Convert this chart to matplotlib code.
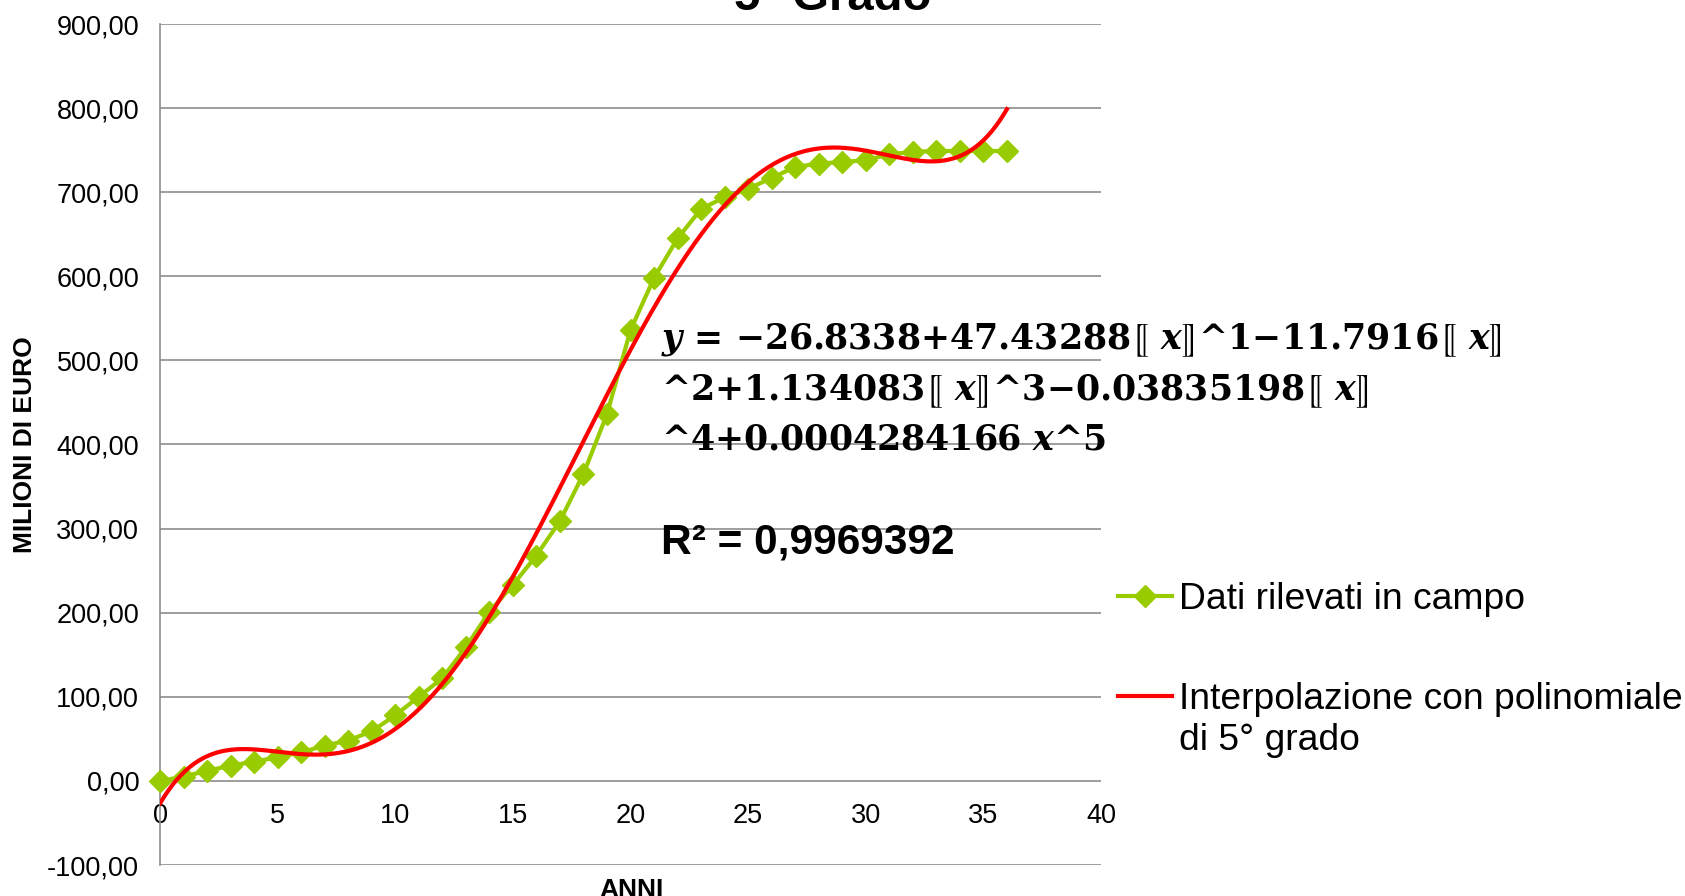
import numpy as np
import matplotlib.pyplot as plt
from matplotlib.ticker import FuncFormatter, MultipleLocator

plt.rcParams['font.family'] = ['Liberation Sans', 'DejaVu Sans']
plt.rcParams['mathtext.fontset'] = 'custom'
plt.rcParams['mathtext.rm'] = 'DejaVu Serif:bold'
plt.rcParams['mathtext.it'] = 'DejaVu Serif:italic:bold'
plt.rcParams['mathtext.bf'] = 'DejaVu Serif:bold'
plt.rcParams['mathtext.fallback'] = 'stix'

# dati
anni = list(range(37))
milioni = [0, 5, 12, 18, 23, 28, 34, 42, 48, 59, 78, 100, 122, 159, 201, 233,
           268, 309, 365, 436, 536, 598, 645, 680, 694, 704, 717, 730, 734,
           736, 738, 745, 748, 749, 749, 749, 749]

# coefficienti della polinomiale riportati nel grafico (grado 0 -> 5)
coef = [-26.8338, 47.43288, -11.7916, 1.134083, -0.03835198, 0.0004284166]

etichetta_dati = "Dati rilevati in campo"
etichetta_fit = "Interpolazione con polinomiale"
etichetta_fit2 = "di 5° grado"
titolo = "5° Grado"
br = r"$⟦\ x⟧$"
equazione = ("$y$ = −26.8338+47.43288" + br + "^1−11.7916" + br + "\n"
             "^2+1.134083" + br + "^3−0.03835198" + br + "\n"
             "^4+0.0004284166 $x$^5")
r2_testo = "R² = 0,9969392"

verde = '#99cc00'
rosso = '#ff0000'
grigio = '#8c8c8c'

fig = plt.figure(figsize=(16.85, 8.96), dpi=100)
ax = fig.add_axes([160/1685, 1 - 865/896, (1101-160)/1685, (865-24)/896])

xx = np.linspace(anni[0], anni[-1], 400)

ax.plot(anni, milioni, color=verde, lw=3, marker='D', markersize=11,
        label=etichetta_dati, clip_on=False, zorder=3)
ax.plot(xx, np.polyval(coef[::-1], xx), color=rosso, lw=3, label=etichetta_fit,
        zorder=4)

ax.set_xlim(0, 40)
ax.set_ylim(-100, 900)
ax.xaxis.set_major_locator(MultipleLocator(5))
ax.yaxis.set_major_locator(MultipleLocator(100))
ax.yaxis.set_major_formatter(FuncFormatter(lambda v, p: f"{v:.2f}".replace('.', ',')))
ax.grid(axis='y', color=grigio, lw=1.2)
ax.set_axisbelow(True)
for s in ['top', 'right']:
    ax.spines[s].set_visible(False)
ax.spines['bottom'].set_position(('data', 0))
ax.spines['bottom'].set_visible(False)
ax.spines['left'].set_color(grigio)
ax.spines['left'].set_linewidth(1.2)
ax.tick_params(axis='both', length=0, labelsize=19.5)
ax.tick_params(axis='y', pad=15)
ax.tick_params(axis='x', pad=16)

fig.text(25/1685, 1 - 445/896, "MILIONI DI EURO", rotation=90, ha='center',
         va='center', fontsize=19, weight='bold')
fig.text(631/1685, 1 - 890/896, "ANNI", ha='center', va='center',
         fontsize=19, weight='bold')
fig.text(833/1685, 1 - 10/896, titolo, ha='center', va='baseline',
         fontsize=34, weight='bold')

ax.text(21.3, 466, equazione, ha='left', va='center', fontsize=25,
        family='DejaVu Serif', weight='bold', linespacing=1.47)
ax.text(21.3, 283, r2_testo, ha='left', va='center', fontsize=30.5,
        weight='bold')

leg = ax.legend(loc='upper left', bbox_to_anchor=(1118/1685, 1 - 582/896),
                bbox_transform=fig.transFigure, frameon=False, fontsize=26.8,
                handlelength=1.45, handletextpad=0.2, labelspacing=1.75,
                borderpad=0, borderaxespad=0)
ax.annotate(etichetta_fit2, xy=(0, 0), xycoords=leg.get_texts()[1],
            xytext=(0, -4), textcoords='offset points', ha='left', va='top',
            fontsize=26.8, zorder=10)

fig.savefig('out.png', dpi=100)
